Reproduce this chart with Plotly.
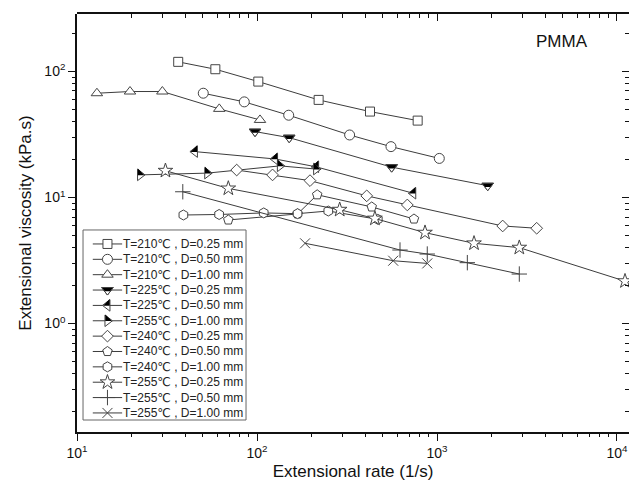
import plotly.graph_objects as go

# ---------------- data ----------------
labels = [
    "T=210℃ , D=0.25 mm", "T=210℃ , D=0.50 mm", "T=210℃ , D=1.00 mm",
    "T=225℃ , D=0.25 mm", "T=225℃ , D=0.50 mm", "T=255℃ , D=1.00 mm",
    "T=240℃ , D=0.25 mm", "T=240℃ , D=0.50 mm", "T=240℃ , D=1.00 mm",
    "T=255℃ , D=0.25 mm", "T=255℃ , D=0.50 mm", "T=255℃ , D=1.00 mm",
]
rate_210_025 = [36.5, 58.7, 101.7, 220, 424.5, 781]
visc_210_025 = [119, 104, 83, 59.4, 48, 40.7]
rate_210_050 = [50.3, 85, 150, 327, 555, 1030]
visc_210_050 = [67.1, 57.3, 44.9, 31.3, 25.3, 20.4]
rate_210_100 = [12.9, 19.7, 29.8, 61.7, 103.9]
visc_210_100 = [67.1, 69.2, 69.2, 50.4, 41.2]
rate_225_025 = [97.5, 151, 560, 1913]
visc_225_025 = [33.3, 29.8, 17.4, 12.4]
rate_225_050 = [45.2, 126, 213, 738]
visc_225_050 = [23.1, 20.2, 17.5, 10.8]
rate_255_100r = [22.4, 52.9, 134, 213]
visc_255_100r = [15.1, 15.6, 17.8, 16.8]
rate_240_025 = [77.1, 122, 197, 407, 684, 2317, 3580]
visc_240_025 = [16.5, 15.1, 13.6, 10.3, 8.72, 5.94, 5.7]
rate_240_050 = [69.3, 168, 216, 434, 745]
visc_240_050 = [6.63, 7.4, 10.5, 8.41, 6.75]
rate_240_100 = [39, 61.6, 109, 168, 249, 469]
visc_240_100 = [7.26, 7.33, 7.54, 7.44, 7.81, 6.71]
rate_255_025 = [31, 69.3, 288, 452, 858, 1606, 2866, 11080]
visc_255_025 = [16.3, 11.8, 8.0, 6.81, 5.26, 4.33, 4.0, 2.17]
rate_255_050 = [38.7, 623, 883, 1474, 2866]
visc_255_050 = [11.1, 3.83, 3.56, 3.04, 2.47]
rate_255_100 = [185, 571, 883]
visc_255_100 = [4.33, 3.15, 3.0]

x_tickvals = [10, 100, 1000, 10000]
x_ticktext = ["10<sup>1</sup>", "10<sup>2</sup>", "10<sup>3</sup>", "10<sup>4</sup>"]
y_tickvals = [1, 10, 100]
y_ticktext = ["10<sup>0</sup>", "10<sup>1</sup>", "10<sup>2</sup>"]

# ---------------- styling ----------------
FONT = "Liberation Sans, Arial, DejaVu Sans, sans-serif"
LINE = "#3c3c3c"
MK = "#444444"
symbols = ["square", "circle", "triangle-up",
           "triangle-down", "triangle-left", "triangle-right",
           "diamond", "pentagon", "hexagon",
           "star", "cross-thin", "x-thin"]
sizes = [9, 10, 10, 10, 10, 10, 9, 10, 10, 11, 11, 10]
# which triangles are half filled (black upper half)
half = [None, None, None, "down", "left", "right", None, None, None, None, None, None]

rates = [rate_210_025, rate_210_050, rate_210_100, rate_225_025, rate_225_050, rate_255_100r,
         rate_240_025, rate_240_050, rate_240_100, rate_255_025, rate_255_050, rate_255_100]
viscs = [visc_210_025, visc_210_050, visc_210_100, visc_225_025, visc_225_050, visc_255_100r,
         visc_240_025, visc_240_050, visc_240_100, visc_255_025, visc_255_050, visc_255_100]

XR = [1, 4.0667]
YR = [-0.86, 2.455]
PLOT_H = 493 - 14 - 61
PX_PER_DEC_Y = PLOT_H / (YR[1] - YR[0])


def base_marker(i):
    return dict(symbol=symbols[i], size=sizes[i], color="white", line=dict(color=MK, width=1))


def overlays(i, xs, ys, shift):
    """Extra marker layers painting the black half of the half-filled triangles."""
    kind = half[i]
    s = sizes[i]
    out = []
    if kind == "down":
        out.append((xs, ys, dict(symbol="triangle-down", size=s, color="black", line=dict(width=0))))
        out.append((xs, shift(ys, -s / 4), dict(symbol="triangle-down", size=s / 2, color="white",
                                                line=dict(width=0))))
        out.append((xs, ys, dict(symbol="triangle-down-open", size=s, color=MK, line=dict(color=MK, width=1))))
    elif kind in ("left", "right"):
        sym = "triangle-se" if kind == "left" else "triangle-sw"
        out.append((xs, shift(ys, 0.19 * s), dict(symbol=sym, size=0.74 * s, color="black",
                                                  line=dict(width=0))))
    return out


def shift_log(ys, px):
    return [v * 10 ** (px / PX_PER_DEC_Y) for v in ys]


fig = go.Figure()
for i in range(len(labels)):
    fig.add_trace(go.Scatter(
        x=rates[i], y=viscs[i], mode="lines+markers", name=labels[i],
        line=dict(color=LINE, width=1), marker=base_marker(i),
        showlegend=False, cliponaxis=False))
    for xs, ys, mk in overlays(i, rates[i], viscs[i], shift_log):
        fig.add_trace(go.Scatter(x=xs, y=ys, mode="markers", marker=mk, showlegend=False,
                                 hoverinfo="skip", cliponaxis=False))

# ---------------- hand-built legend (on hidden helper axes) ----------------
LEG_X = [0.0109, 0.3062]
LEG_Y = [0.0287, 0.4833]
LEG_YR = [11.46, -0.91]
LEG_PX_PER_UNIT = (LEG_Y[1] - LEG_Y[0]) * PLOT_H / (LEG_YR[0] - LEG_YR[1])


def shift_leg(ys, px):
    return [v - px / LEG_PX_PER_UNIT for v in ys]


annotations = []
for i in range(len(labels)):
    fig.add_trace(go.Scatter(x=[0.06, 0.24], y=[i, i], mode="lines", xaxis="x3", yaxis="y3",
                             line=dict(color=LINE, width=1), showlegend=False, hoverinfo="skip"))
    fig.add_trace(go.Scatter(x=[0.15], y=[i], mode="markers", xaxis="x3", yaxis="y3",
                             marker=base_marker(i), showlegend=False, hoverinfo="skip"))
    for xs, ys, mk in overlays(i, [0.15], [i], shift_leg):
        fig.add_trace(go.Scatter(x=xs, y=ys, mode="markers", xaxis="x3", yaxis="y3", marker=mk,
                                 showlegend=False, hoverinfo="skip"))
    annotations.append(dict(x=0.235, y=i, xref="x3", yref="y3", text=labels[i], showarrow=False,
                            xanchor="left", yanchor="middle",
                            font=dict(family=FONT, size=12, color="#222")))

annotations.append(dict(x=0.878, y=0.935, xref="paper", yref="paper", text="PMMA", showarrow=False,
                        xanchor="center", yanchor="middle", font=dict(family=FONT, size=17, color="#111")))

minor_x = [d * 10 ** k for k in range(1, 5) for d in range(2, 10)]
minor_y = [d * 10 ** k for k in range(-1, 3) for d in range(2, 10)]

# invisible helper traces so that the tick-only subplots get drawn
for xa, ya in [("x2", "y2"), ("x4", "y4"), ("x5", "y5")]:
    fig.add_trace(go.Scatter(x=[20], y=[1], xaxis=xa, yaxis=ya, mode="markers",
                             marker=dict(opacity=0, size=1), showlegend=False, hoverinfo="skip"))

base = dict(type="log", showgrid=False, zeroline=False, automargin=False, fixedrange=True,
            linecolor="#111", linewidth=1.6, tickcolor="#111")
maj = dict(tickwidth=1.3, ticklen=7)
mnr = dict(tickwidth=1.1, ticklen=4, showticklabels=False, showline=False)

fig.update_layout(
    width=629, height=493,
    margin=dict(l=77, r=0, t=14, b=61),
    paper_bgcolor="white", plot_bgcolor="rgba(0,0,0,0)",
    font=dict(family=FONT, size=14, color="#111"),
    xaxis=dict(**base, **maj, range=XR, showline=True, ticks="outside",
               tickvals=x_tickvals, ticktext=x_ticktext, tickfont=dict(size=14),
               title=dict(text="Extensional rate (1/s)", font=dict(size=17), standoff=6)),
    yaxis=dict(**base, **maj, range=YR, showline=True, ticks="outside",
               tickvals=y_tickvals, ticktext=y_ticktext, tickfont=dict(size=14),
               title=dict(text="Extensional viscosity (kPa.s)", font=dict(size=17), standoff=8)),
    # mirrored major ticks (top / right), inward
    xaxis2=dict(**base, **maj, range=XR, side="top", anchor="y2", showline=True, ticks="inside",
                tickvals=x_tickvals, showticklabels=False),
    yaxis2=dict(**base, **maj, range=YR, side="right", anchor="x2", showline=False, ticks="inside",
                tickvals=y_tickvals, showticklabels=False),
    # minor ticks bottom / left, outward
    xaxis4=dict(**base, **mnr, range=XR, side="bottom", anchor="y4", ticks="outside", tickvals=minor_x),
    yaxis4=dict(**base, **mnr, range=YR, side="left", anchor="x4", ticks="outside", tickvals=minor_y),
    # minor ticks top / right, inward
    xaxis5=dict(**base, **mnr, range=XR, side="top", anchor="y5", ticks="inside", tickvals=minor_x),
    yaxis5=dict(**base, **mnr, range=YR, side="right", anchor="x5", ticks="inside", tickvals=minor_y),
    xaxis3=dict(domain=LEG_X, range=[0, 1], anchor="y3", visible=False, fixedrange=True),
    yaxis3=dict(domain=LEG_Y, range=LEG_YR, anchor="x3", visible=False, fixedrange=True),
    shapes=[dict(type="rect", xref="paper", yref="paper", x0=LEG_X[0], x1=LEG_X[1], y0=LEG_Y[0], y1=LEG_Y[1],
                 line=dict(color="#666", width=1), fillcolor="white", layer="below")],
    annotations=annotations,
)

# remove the browser's default 8px page margin so the figure sits at the window origin
fig.write_html("out.html", post_script="document.body.style.margin='0px';",
               config={"displayModeBar": False})
